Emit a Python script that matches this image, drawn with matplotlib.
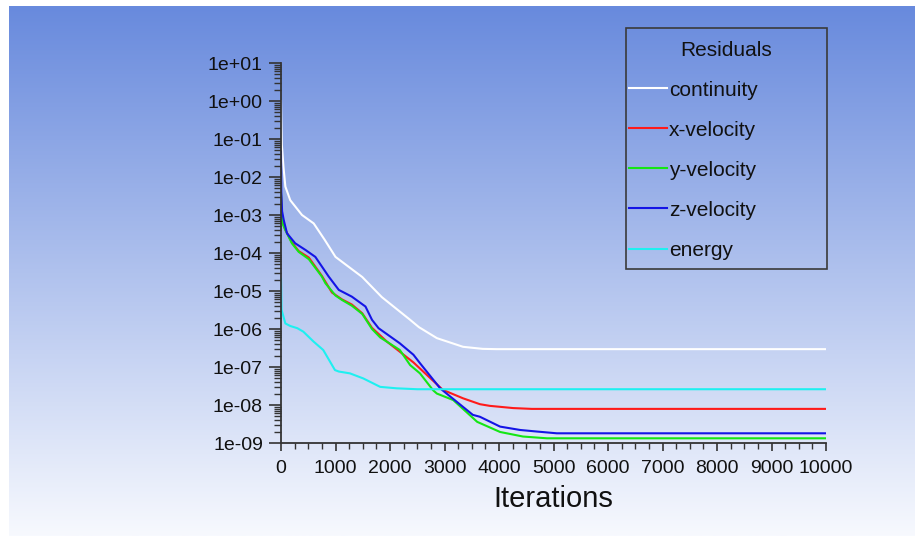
import numpy as np
import matplotlib
matplotlib.use("agg")
import matplotlib.pyplot as plt
from matplotlib.ticker import LogLocator, MultipleLocator, FuncFormatter, NullFormatter
from matplotlib.patches import Rectangle

plt.rcParams["font.family"] = ["Liberation Sans", "DejaVu Sans"]

# residual histories (iteration, residual)
cont_it = [0, 15, 45, 80, 170, 385, 600, 800, 1000, 1200, 1490, 1850, 2370, 2530, 2860, 3340, 3700, 3960, 10000]
cont_res = [1.0, 7.1e-2, 1.86e-2, 5.6e-3, 2.45e-3, 1.0e-3, 6.0e-4, 2.24e-4, 7.9e-5, 4.8e-5, 2.34e-5,
            6.9e-6, 1.74e-6, 1.12e-6, 5.75e-7, 3.4e-7, 3.0e-7, 2.95e-7, 2.95e-7]

xvel_it = [0, 20, 80, 200, 325, 510, 750, 935, 1120, 1300, 1490, 1670, 1940, 2430, 2970, 3340, 3650, 3830, 4260, 4600, 10000]
xvel_res = [3.2e-3, 7.1e-4, 4.1e-4, 1.9e-4, 1.12e-4, 7.6e-5, 2.5e-5, 9.1e-6, 6.0e-6, 4.4e-6, 2.6e-6,
            1.07e-6, 4.7e-7, 1.32e-7, 2.5e-8, 1.5e-8, 1.05e-8, 9.5e-9, 8.3e-9, 7.9e-9, 7.9e-9]

yvel_it = [0, 20, 80, 200, 325, 510, 750, 815, 1000, 1120, 1300, 1490, 1670, 1820, 2180, 2370, 2550,
           2790, 2860, 3160, 3600, 4020, 4440, 4880, 10000]
yvel_res = [3.8e-3, 6.3e-4, 4.0e-4, 1.8e-4, 1.07e-4, 6.9e-5, 2.4e-5, 1.6e-5, 7.6e-6, 5.8e-6, 4.1e-6,
            2.5e-6, 1.0e-6, 6.0e-7, 2.8e-7, 1.12e-7, 6.8e-8, 2.45e-8, 2.0e-8, 1.35e-8, 3.6e-9,
            1.95e-9, 1.48e-9, 1.33e-9, 1.33e-9]

zvel_it = [0, 5, 20, 50, 110, 260, 450, 630, 875, 1060, 1300, 1550, 1670, 1790, 2180, 2430, 2550,
           2920, 3520, 3650, 4020, 4390, 4700, 5060, 10000]
zvel_res = [4.7e-2, 4.0e-3, 1.26e-3, 7.4e-4, 3.3e-4, 1.8e-4, 1.2e-4, 7.9e-5, 2.4e-5, 1.07e-5, 7.1e-6,
            3.9e-6, 1.74e-6, 1.05e-6, 4.2e-7, 2.1e-7, 1.26e-7, 2.75e-8, 5.5e-9, 4.9e-9, 2.7e-9,
            2.2e-9, 2.0e-9, 1.8e-9, 1.8e-9]

energy_it = [0, 10, 80, 170, 300, 410, 595, 775, 990, 1060, 1265, 1510, 1820, 2120, 2500, 10000]
energy_res = [2.1e-5, 3.2e-6, 1.4e-6, 1.2e-6, 1.05e-6, 8.5e-7, 4.7e-7, 2.8e-7, 8.3e-8, 7.6e-8, 6.8e-8,
              5.0e-8, 3.0e-8, 2.75e-8, 2.6e-8, 2.6e-8]

labels = ["continuity", "x-velocity", "y-velocity", "z-velocity", "energy"]
colors = ["#ffffff", "#ff1a1a", "#14e614", "#1414e6", "#1ef0f0"]

W, H = 915, 536
fig = plt.figure(figsize=(W / 100, H / 100), dpi=100)

# gradient background like the solver window
bg = fig.add_axes([9 / W, 0, 1 - 9 / W, 1 - 6 / H], zorder=0)
t = np.linspace(0, 1, 256)[:, None, None]
top = np.array([104, 138, 221]) / 255
bot = np.array([247, 249, 254]) / 255
bg.imshow(top + (bot - top) * t, aspect="auto", extent=[0, 1, 0, 1])
bg.axis("off")

ax = fig.add_axes([281 / W, 1 - 443 / H, 545 / W, 380 / H], zorder=1)
ax.patch.set_visible(False)

series = [(cont_it, cont_res), (xvel_it, xvel_res), (yvel_it, yvel_res),
          (zvel_it, zvel_res), (energy_it, energy_res)]
for (it, res), lab, c in zip(series, labels, colors):
    ax.plot(it, res, color=c, lw=1.5, label=lab)

ax.set_yscale("log")
ax.set_ylim(1e-9, 1e1)
ax.set_xlim(0, 10000)
ax.yaxis.set_major_locator(LogLocator(base=10, numticks=20))
ax.yaxis.set_minor_locator(LogLocator(base=10, subs=np.arange(2, 10), numticks=20))
ax.yaxis.set_major_formatter(FuncFormatter(lambda v, p: "%.0e" % v))
ax.yaxis.set_minor_formatter(NullFormatter())
ax.xaxis.set_major_locator(MultipleLocator(1000))
ax.xaxis.set_minor_locator(MultipleLocator(250))

for s in ["top", "right"]:
    ax.spines[s].set_visible(False)
for s in ["left", "bottom"]:
    ax.spines[s].set_color("#333333")
    ax.spines[s].set_linewidth(1.3)

ax.tick_params(axis="y", which="major", length=9, width=1.2, color="#333333", pad=4,
               labelsize=14, labelcolor="#111111")
ax.tick_params(axis="y", which="minor", length=5, width=1.0, color="#333333")
ax.tick_params(axis="x", which="major", length=6, width=1.2, color="#333333", pad=6,
               labelsize=14, labelcolor="#111111")
ax.tick_params(axis="x", which="minor", length=4, width=1.0, color="#333333")

ax.set_xlabel("Iterations", fontsize=21, color="#111111", labelpad=6)

leg = ax.legend(title="Residuals", loc="upper left",
                bbox_to_anchor=(626 / W, 1 - 37.5 / H, 201 / W, 0), bbox_transform=fig.transFigure,
                mode="expand", frameon=False, fontsize=15, title_fontsize=15,
                handlelength=1.8, handletextpad=0.12, labelspacing=1.01, borderpad=0.15,
                borderaxespad=0)
for txt in leg.get_texts():
    txt.set_color("#111111")
leg.get_title().set_color("#111111")
fig.add_artist(Rectangle((626 / W, 1 - 269 / H), 201 / W, 241 / H, transform=fig.transFigure,
                         fill=False, edgecolor="#3a3a3a", lw=1.2, zorder=5))

plt.savefig("out.png", dpi=100)
